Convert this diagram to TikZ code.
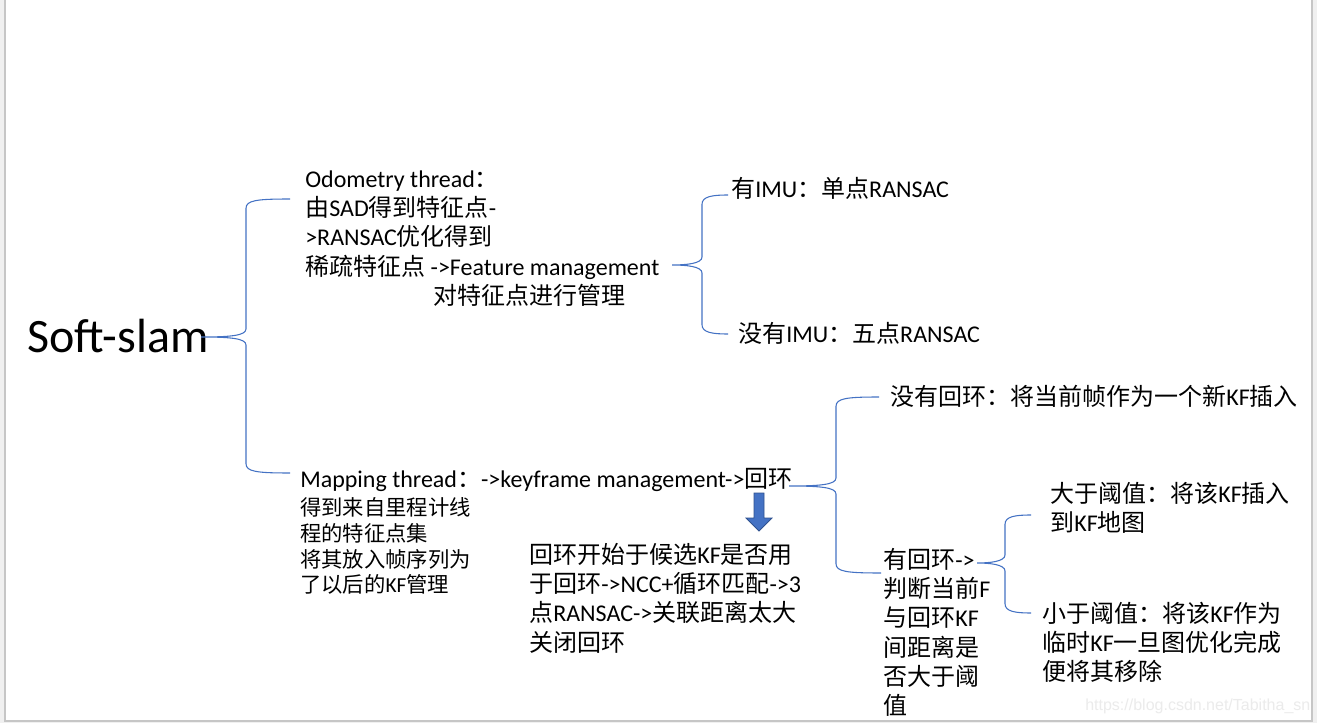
\documentclass[tikz,border=0pt]{standalone}
\usepackage{fontspec}
\setmainfont{Carlito}
\newfontfamily\cjk{Noto Sans CJK SC}
\newfontfamily\wmfont{Liberation Sans}
\usetikzlibrary{calc}

% --- switch to the CJK font for Chinese runs ---
\XeTeXinterchartokenstate=1
\chardef\cjkclass=7
\newcount\cjkcode
\cjkcode="3000
\loop
  \XeTeXcharclass\cjkcode=\cjkclass
  \ifnum\cjkcode<"9FFF \advance\cjkcode by 1 \repeat
\cjkcode="FF00
\loop
  \XeTeXcharclass\cjkcode=\cjkclass
  \ifnum\cjkcode<"FFEF \advance\cjkcode by 1 \repeat
\XeTeXinterchartoks 0 \cjkclass = {\cjk}
\XeTeXinterchartoks 4095 \cjkclass = {\cjk}
\XeTeXinterchartoks \cjkclass 0 = {\rmfamily}
\XeTeXinterchartoks \cjkclass 4095 = {\rmfamily}

\definecolor{braceblue}{HTML}{4472C4}
\definecolor{arrowedge}{HTML}{2F528F}

\newcommand{\topstrut}{\rule{0pt}{1em}}
% curly brace: tip, top end, bottom end, spine offset from tip
\newcommand{\curly}[4]{%
  \draw[braceline] let \p1=(#1), \p2=(#2), \p3=(#3), \p4=($(#1)+(#4,0)$) in
    (\p2) .. controls (\x4+8pt,\y2) and (\x4,\y2-1pt) .. (\x4,\y2-7pt)
       -- (\x4,\y1+6pt) .. controls (\x4,\y1+1pt) and (\x4-12pt,\y1) .. (\p1)
       .. controls (\x4-12pt,\y1) and (\x4,\y1-1pt) .. (\x4,\y1-6pt)
       -- (\x4,\y3+7pt) .. controls (\x4,\y3+1pt) and (\x4+8pt,\y3) .. (\p3);
}

\tikzset{
  note/.style={inner sep=0pt, anchor=north west, align=left,
               font=\fontsize{18}{22}\selectfont},
  braceline/.style={draw=braceblue, line width=0.8pt},
}

\begin{document}
\begin{tikzpicture}[x=0.75pt, y=-0.75pt]

    % --- Page ---
    \useasboundingbox (0,0) rectangle (1317,723);
    \fill[gray!12] (0,0) rectangle (1317,723);
    \fill[white] (5,0) rectangle (1312,721);
    \draw[gray!45, line width=0.8pt] (5,0) -- (5,721) -- (1312,721) -- (1312,0);

    % --- Root ---
    \node[note, font=\fontsize{36}{40}\selectfont] (soft) at (27,304) {\topstrut Soft-slam};

    % --- Odometry branch ---
    \node[note] (odo) at (305,163) {\topstrut Odometry thread：\\
        由SAD得到特征点-\\
        >RANSAC优化得到\\
        稀疏特征点 ->Feature management\\
        \hspace*{96pt}对特征点进行管理};
    \node[note] (imuyes) at (731,173) {\topstrut 有IMU：单点RANSAC};
    \node[note] (imuno) at (738,318) {\topstrut 没有IMU：五点RANSAC};

    % --- Mapping branch ---
    \node[note] (mapline) at (300,463) {\topstrut Mapping thread：->keyframe management->回环};
    \node[note, font=\fontsize{16}{19.3}\selectfont] (mapnote) at (300,494) {\topstrut 得到来自里程计线\\
        程的特征点集\\
        将其放入帧序列为\\
        了以后的KF管理};
    \node[note] (loopclose) at (529,539) {\topstrut 回环开始于候选KF是否用\\
        于回环->NCC+循环匹配->3\\
        点RANSAC->关联距离太大\\
        关闭回环};

    % --- Loop cases ---
    \node[note] (noloop) at (890,381) {\topstrut 没有回环：将当前帧作为一个新KF插入};
    \node[note] (hasloop) at (883,544) {\topstrut 有回环->\\
        判断当前F\\
        与回环KF\\
        间距离是\\
        否大于阈\\
        值};
    \node[note] (overthr) at (1050,478) {\topstrut 大于阈值：将该KF插入\\
        到KF地图};
    \node[note] (underthr) at (1042,598) {\topstrut 小于阈值：将该KF作为\\
        临时KF一旦图优化完成\\
        便将其移除};

    % --- Watermark ---
    \node[inner sep=0pt, anchor=base west, text=gray!16,
          font=\wmfont\fontsize{12}{14}\selectfont] (mark) at (1085,710)
          {https://blog.csdn.net/Tabitha\_sn};

    % --- Brace ends ---
    \coordinate (b1tip) at (201,337);
    \coordinate (b1top) at (290,199);
    \coordinate (b1bot) at (290,473);
    \coordinate (b2tip) at (672,265);
    \coordinate (b2top) at (728,195);
    \coordinate (b2bot) at (728,334);
    \coordinate (b3tip) at (789,486);
    \coordinate (b3top) at (879,397);
    \coordinate (b3bot) at (881,573);
    \coordinate (b4tip) at (977,563);
    \coordinate (b4top) at (1031,515);
    \coordinate (b4bot) at (1031,613);

    % --- Braces ---
    \curly{b1tip}{b1top}{b1bot}{45}
    \curly{b2tip}{b2top}{b2bot}{30}
    \curly{b3tip}{b3top}{b3bot}{47}
    \curly{b4tip}{b4top}{b4bot}{28}

    % --- Down arrow ---
    \filldraw[fill=braceblue, draw=arrowedge, line width=0.6pt]
        (754,493) -- (764,493) -- (764,518) -- (772,518) -- (759,531)
        -- (746,518) -- (754,518) -- cycle;

\end{tikzpicture}
\end{document}
